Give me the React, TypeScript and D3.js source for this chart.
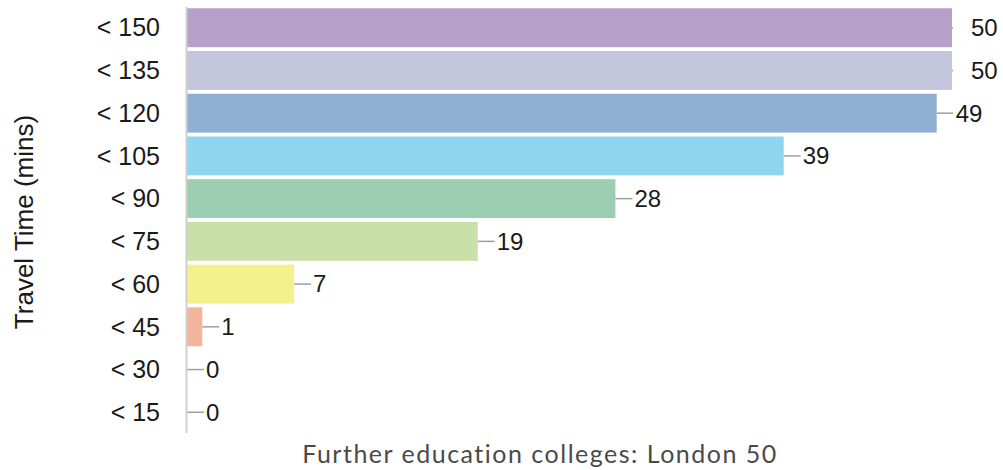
import React from "react";
import * as d3 from "d3";

const categories = ["< 150", "< 135", "< 120", "< 105", "< 90", "< 75", "< 60", "< 45", "< 30", "< 15"];
const values = [50, 50, 49, 39, 28, 19, 7, 1, 0, 0];
const colors = ["#b7a0c8", "#c3c5dc", "#8fb0d3", "#8ed6ef", "#9ccfb2", "#c9e0a9", "#f4f08e", "#f2b49a", "#f3d2d2", "#dddddd"];
const yTitle = "Travel Time (mins)";
const xTitle = "Further education colleges: London 50";

const W = 1003, H = 470;
const left = 187, right = 952, top = 7, bottom = 433;

export default function App() {
  const x = d3.scaleLinear().domain([0, 50]).range([left, right]);
  const y = d3.scaleBand<string>().domain(categories).range([top, bottom]).paddingInner(0.09).paddingOuter(0.03);
  const bw = y.bandwidth();
  return (
    <svg width={W} height={H} style={{ position: "absolute", left: 0, top: 0, background: "#fff" }}>
      <defs>
        <clipPath id="plot"><rect x={left - 2} y={0} width={right - left + 3} height={H} /></clipPath>
      </defs>
      {categories.map((c, i) => {
        const yc = (y(c) as number) + bw / 2;
        const xe = x(values[i]);
        return (
          <g key={c}>
            <rect x={left} y={y(c)} width={Math.max(0, xe - left)} height={bw} fill={colors[i]} />
            <line x1={xe} x2={xe + 17} y1={yc} y2={yc} stroke="#a0a0a0" strokeWidth={1.5} clipPath="url(#plot)" />
            <text x={xe + 19} y={yc} dy="0.35em" fontFamily="Liberation Sans, Arial, sans-serif" fontSize={24} fill="#1a1a1a">{values[i]}</text>
            <text x={160} y={yc} dy="0.35em" textAnchor="end" fontFamily="Liberation Sans, Arial, sans-serif" fontSize={25} fill="#1a1a1a">{c}</text>
          </g>
        );
      })}
      <line x1={left - 0.5} x2={left - 0.5} y1={top} y2={bottom} stroke="#cfcfcf" strokeWidth={2} />
      <text transform={`translate(33,${222}) rotate(-90)`} textAnchor="middle" fontFamily="Liberation Sans, Arial, sans-serif" fontSize={26} fill="#1a1a1a">{yTitle}</text>
      <text x={540} y={463} textAnchor="middle" fontFamily="Lato, Noto Sans, sans-serif" fontSize={25} fill="#4a4a4a" letterSpacing={1.5}>{xTitle}</text>
    </svg>
  );
}
